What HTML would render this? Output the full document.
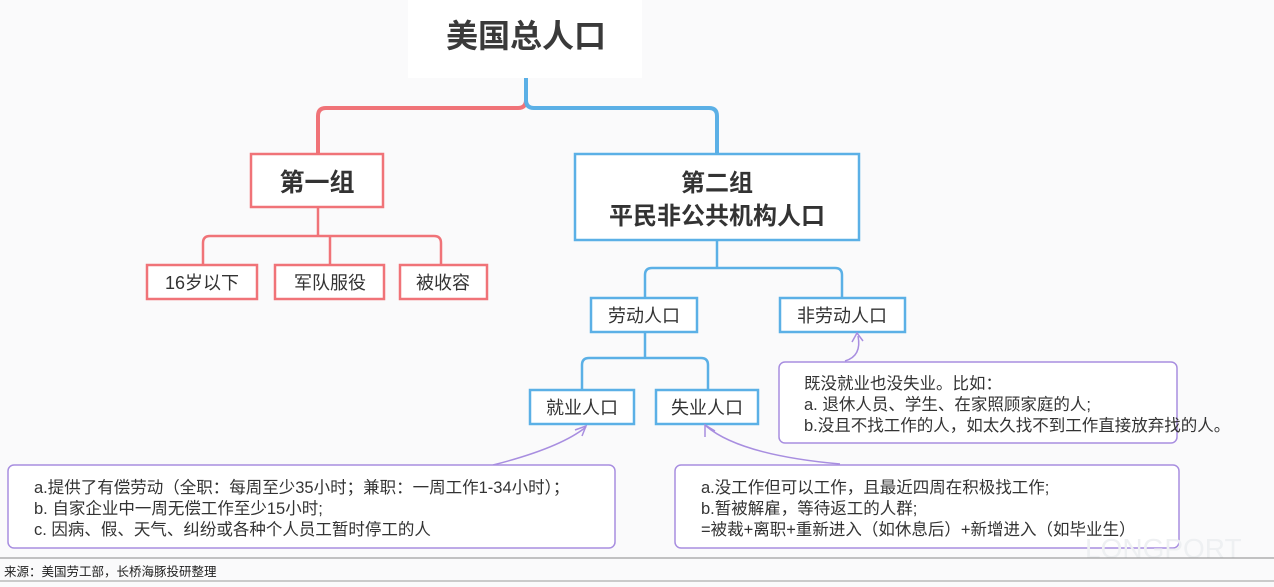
<!DOCTYPE html>
<html><head><meta charset="utf-8"><style>
body{margin:0;width:1274px;height:582px;overflow:hidden;background:#fafafb;font-family:"Liberation Sans","Noto Sans CJK SC",sans-serif}
</style></head><body>
<svg width="1274" height="582" xmlns="http://www.w3.org/2000/svg" style="font-family:'Liberation Sans','Noto Sans CJK SC',sans-serif">
<rect width="1274" height="582" fill="#fafafb"/>
<rect x="408" y="0" width="234" height="78" fill="#fff"/>
<text x="526" y="47" text-anchor="middle" font-size="32" font-weight="bold" fill="#3a3a3a">美国总人口</text>
<path d="M526 78 V100 Q526 108 518 108 H326 Q318 108 318 116 V153" fill="none" stroke="#f07378" stroke-width="4"/>
<path d="M526 78 V100 Q526 108 534 108 H709 Q717 108 717 116 V153" fill="none" stroke="#5bb0e6" stroke-width="4"/>
<rect x="251" y="154" width="132" height="53" fill="#fff" stroke="#f07378" stroke-width="2.5"/>
<text x="317" y="191" text-anchor="middle" font-size="25" font-weight="bold" fill="#333">第一组</text>
<path d="M318 207 V236 M203 265 V243 Q203 236 210 236 H434 Q441 236 441 243 V265 M330 236 V265" fill="none" stroke="#f07378" stroke-width="2.5"/>
<rect x="147" y="265" width="110" height="34" fill="#fff" stroke="#f07378" stroke-width="2.5"/>
<text x="202" y="289" text-anchor="middle" font-size="18" fill="#333">16岁以下</text>
<rect x="275" y="265" width="109" height="34" fill="#fff" stroke="#f07378" stroke-width="2.5"/>
<text x="330" y="289" text-anchor="middle" font-size="18" fill="#333">军队服役</text>
<rect x="400" y="265" width="87" height="34" fill="#fff" stroke="#f07378" stroke-width="2.5"/>
<text x="443" y="289" text-anchor="middle" font-size="18" fill="#333">被收容</text>
<rect x="575" y="154" width="284" height="86" fill="#fff" stroke="#5bb0e6" stroke-width="2.5"/>
<text x="717" y="191" text-anchor="middle" font-size="24" font-weight="bold" fill="#333">第二组</text>
<text x="717" y="224" text-anchor="middle" font-size="24" font-weight="bold" fill="#333">平民非公共机构人口</text>
<path d="M717 240 V268 M645 298 V275 Q645 268 652 268 H835 Q842 268 842 275 V298" fill="none" stroke="#5bb0e6" stroke-width="2.5"/>
<rect x="591" y="298" width="106" height="34" fill="#fff" stroke="#5bb0e6" stroke-width="2.5"/>
<text x="644" y="322" text-anchor="middle" font-size="18" fill="#333">劳动人口</text>
<rect x="780" y="298" width="125" height="34" fill="#fff" stroke="#5bb0e6" stroke-width="2.5"/>
<text x="842" y="322" text-anchor="middle" font-size="18" fill="#333">非劳动人口</text>
<path d="M645 332 V358 M582 390 V365 Q582 358 589 358 H701 Q708 358 708 365 V390" fill="none" stroke="#5bb0e6" stroke-width="2.5"/>
<rect x="530" y="390" width="104" height="34" fill="#fff" stroke="#5bb0e6" stroke-width="2.5"/>
<text x="582" y="414" text-anchor="middle" font-size="18" fill="#333">就业人口</text>
<rect x="656" y="390" width="102" height="34" fill="#fff" stroke="#5bb0e6" stroke-width="2.5"/>
<text x="707" y="414" text-anchor="middle" font-size="18" fill="#333">失业人口</text>
<g fill="none" stroke="#a88ee0" stroke-width="1.5">
<path d="M845 361 Q862 356 858 336"/><path d="M852 342 L857 333 L863 341"/>
<path d="M493 465 Q560 448 586 427"/><path d="M575 430 L586 426 L582 436"/>
<path d="M840 464 Q740 455 706 426"/><path d="M705 437 L705 425 L715 431"/>
</g>
<rect x="779" y="362" width="398" height="81" rx="6" fill="#fff" stroke="#a88ee0" stroke-width="1.5"/>
<g font-size="16.5" fill="#333">
<text x="804" y="389">既没就业也没失业。比如：</text>
<text x="804" y="410">a. 退休人员、学生、在家照顾家庭的人;</text>
<text x="804" y="431">b.没且不找工作的人，如太久找不到工作直接放弃找的人。</text>
</g>
<rect x="8" y="465" width="607" height="83" rx="6" fill="#fff" stroke="#a88ee0" stroke-width="1.5"/>
<g font-size="16.5" fill="#333">
<text x="34" y="493">a.提供了有偿劳动（全职：每周至少35小时；兼职：一周工作1-34小时）；</text>
<text x="34" y="514">b. 自家企业中一周无偿工作至少15小时;</text>
<text x="34" y="535">c. 因病、假、天气、纠纷或各种个人员工暂时停工的人</text>
</g>
<rect x="675" y="465" width="504" height="83" rx="6" fill="#fff" stroke="#a88ee0" stroke-width="1.5"/>
<g font-size="16.5" fill="#333">
<text x="701" y="493">a.没工作但可以工作，且最近四周在积极找工作;</text>
<text x="701" y="514">b.暂被解雇，等待返工的人群;</text>
<text x="701" y="535">=被裁+离职+重新进入（如休息后）+新增进入（如毕业生）</text>
</g>
<text x="1085" y="558" font-size="28" fill="#eef0f2">LONGPORT</text>
<line x1="0" y1="558" x2="1274" y2="558" stroke="#888" stroke-width="1"/>
<text x="4" y="576" font-size="12.5" fill="#222">来源：美国劳工部，长桥海豚投研整理</text>
<line x1="0" y1="581" x2="1274" y2="581" stroke="#999" stroke-width="1"/>
</svg>
</body></html>
